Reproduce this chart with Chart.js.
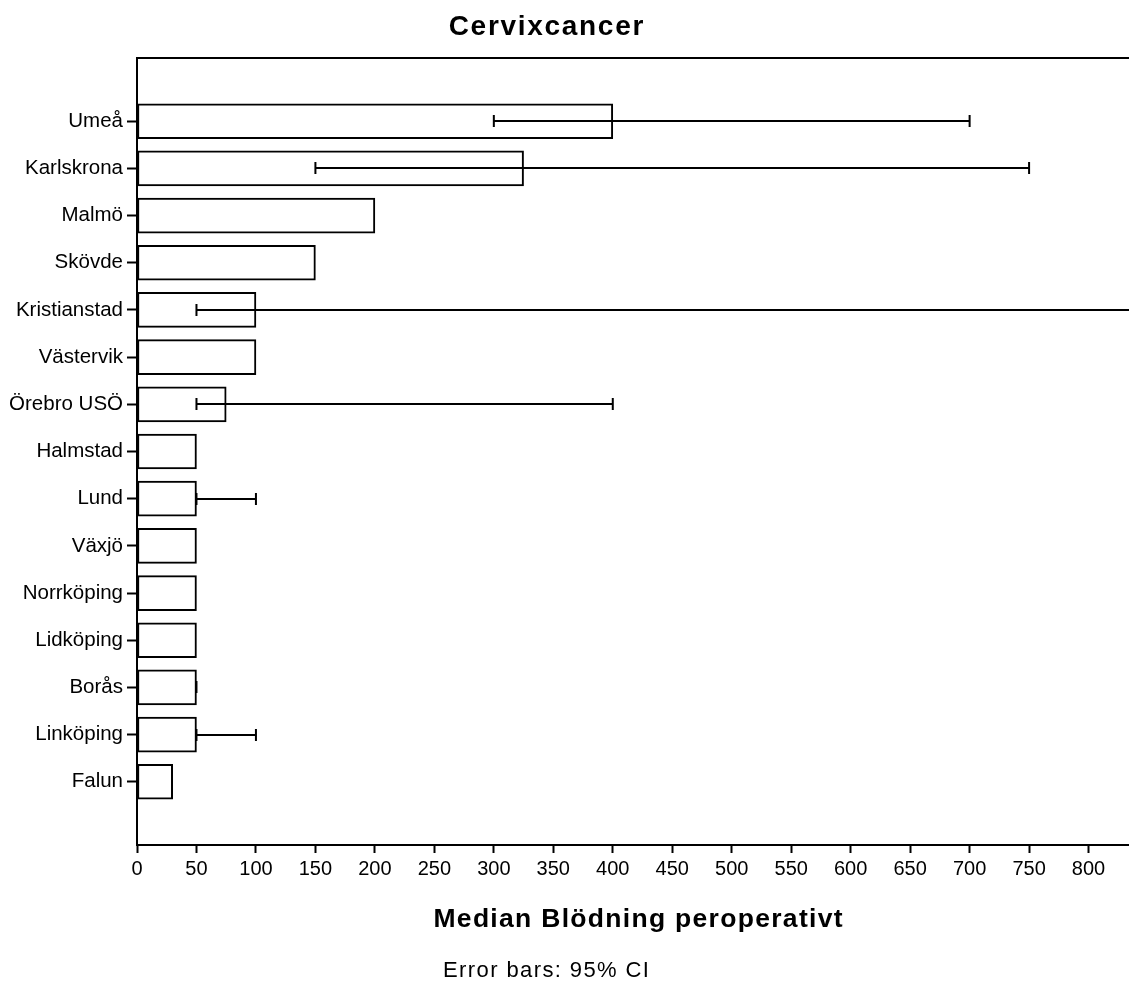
<!DOCTYPE html>
<html>
<head>
<meta charset="utf-8">
<title>Cervixcancer</title>
<script src="https://cdn.jsdelivr.net/npm/chart.js@4.4.1/dist/chart.umd.min.js"></script>
<style>
  html, body { margin: 0; padding: 0; background: #fff; }
  canvas { display: block; }
</style>
</head>
<body>
<canvas id="chart" width="1129" height="982"></canvas>
<script>
// Median peroperative bleeding per hospital, with 95% confidence intervals
const hospitals = ['Umeå', 'Karlskrona', 'Malmö', 'Skövde', 'Kristianstad', 'Västervik', 'Örebro USÖ',
  'Halmstad', 'Lund', 'Växjö', 'Norrköping', 'Lidköping', 'Borås', 'Linköping', 'Falun'];
const medianBleeding = [400, 325, 200, 150, 100, 100, 75, 50, 50, 50, 50, 50, 50, 50, 30];
const ciLower = [300, 150, null, null, 50, null, 50, null, 50, null, null, null, 50, 50, null];
const ciUpper = [700, 750, null, null, 900, null, 400, null, 100, null, null, null, 50, 100, null];
const xTickValues = [0, 50, 100, 150, 200, 250, 300, 350, 400, 450, 500, 550, 600, 650, 700, 750, 800];

const chartTitle = 'Cervixcancer';
const xAxisTitle = 'Median Blödning peroperativt';
const footnote = 'Error bars: 95% CI';

const FONT = '"Liberation Sans", Arial, sans-serif';

// Horizontal CI whiskers with end caps, clipped to the plot area
const errorBars = {
  id: 'errorBars',
  afterDatasetsDraw(chart) {
    const { ctx, chartArea, scales: { x, y } } = chart;
    ctx.save();
    ctx.beginPath();
    ctx.rect(chartArea.left, chartArea.top, chartArea.right - chartArea.left, chartArea.bottom - chartArea.top);
    ctx.clip();
    ctx.strokeStyle = '#000';
    ctx.lineWidth = 2;
    const cap = 6;
    hospitals.forEach((name, i) => {
      if (ciLower[i] == null || ciUpper[i] == null) return;
      const yc = Math.round(y.getPixelForValue(i));
      const x0 = x.getPixelForValue(ciLower[i]);
      const x1 = x.getPixelForValue(ciUpper[i]);
      ctx.beginPath();
      ctx.moveTo(x0, yc); ctx.lineTo(x1, yc);
      ctx.moveTo(x0, yc - cap); ctx.lineTo(x0, yc + cap);
      ctx.moveTo(x1, yc - cap); ctx.lineTo(x1, yc + cap);
      ctx.stroke();
    });
    ctx.restore();
  }
};

function drawSpacedText(ctx, text, font, spacing, cx, baseline) {
  ctx.font = font;
  ctx.letterSpacing = spacing + 'px';
  ctx.fillText(text, cx + spacing / 2, baseline);
  ctx.letterSpacing = '0px';
}

// Top frame line, chart title, axis title and footnote
const frame = {
  id: 'frame',
  afterDraw(chart) {
    const { ctx, chartArea } = chart;
    ctx.save();
    ctx.strokeStyle = '#000';
    ctx.lineWidth = 2;
    ctx.beginPath();
    ctx.moveTo(chartArea.left - 1, chartArea.top);
    ctx.lineTo(chartArea.right, chartArea.top);
    ctx.stroke();

    ctx.fillStyle = '#000';
    ctx.textAlign = 'center';
    ctx.textBaseline = 'alphabetic';
    drawSpacedText(ctx, chartTitle, 'bold 28px ' + FONT, 1.7, 546, 35);
    drawSpacedText(ctx, xAxisTitle, 'bold 26.5px ' + FONT, 1.3, 638, 927);
    drawSpacedText(ctx, footnote, '22px ' + FONT, 1.4, 546, 977);
    ctx.restore();
  }
};

new Chart(document.getElementById('chart'), {
  type: 'bar',
  data: {
    datasets: [{
      data: hospitals.map((name, i) => ({ x: medianBleeding[i], y: i })),
      backgroundColor: '#ffffff',
      borderColor: '#000000',
      borderWidth: 2,
      borderSkipped: false,
      barThickness: 35
    }]
  },
  options: {
    indexAxis: 'y',
    responsive: false,
    animation: false,
    layout: { padding: { top: 58, left: 0, right: 0, bottom: 0 } },
    plugins: {
      legend: { display: false },
      tooltip: { enabled: false },
      title: { display: false }
    },
    scales: {
      x: {
        type: 'linear',
        min: 0,
        max: 834,
        afterFit(scale) { scale.height = 137; },
        afterBuildTicks(scale) { scale.ticks = xTickValues.map(v => ({ value: v })); },
        grid: { drawOnChartArea: false, tickLength: 8, tickWidth: 2, tickColor: '#000', color: '#000' },
        border: { display: true, color: '#000', width: 2 },
        ticks: { color: '#000', font: { family: FONT, size: 20 }, padding: 4, maxRotation: 0, autoSkip: false }
      },
      y: {
        type: 'linear',
        reverse: true,
        offset: false,
        min: -1.34,
        max: 15.34,
        afterFit(scale) { scale.width = 137; },
        afterBuildTicks(scale) { scale.ticks = hospitals.map((name, i) => ({ value: i })); },
        grid: { offset: false, drawOnChartArea: false, tickLength: 10, tickWidth: 2, tickColor: '#000', color: '#000' },
        border: { display: true, color: '#000', width: 2 },
        ticks: {
          color: '#000',
          font: { family: FONT, size: 20.5 },
          padding: 4,
          autoSkip: false,
          callback: (value) => hospitals[value]
        }
      }
    }
  },
  plugins: [errorBars, frame]
});
</script>
</body>
</html>
